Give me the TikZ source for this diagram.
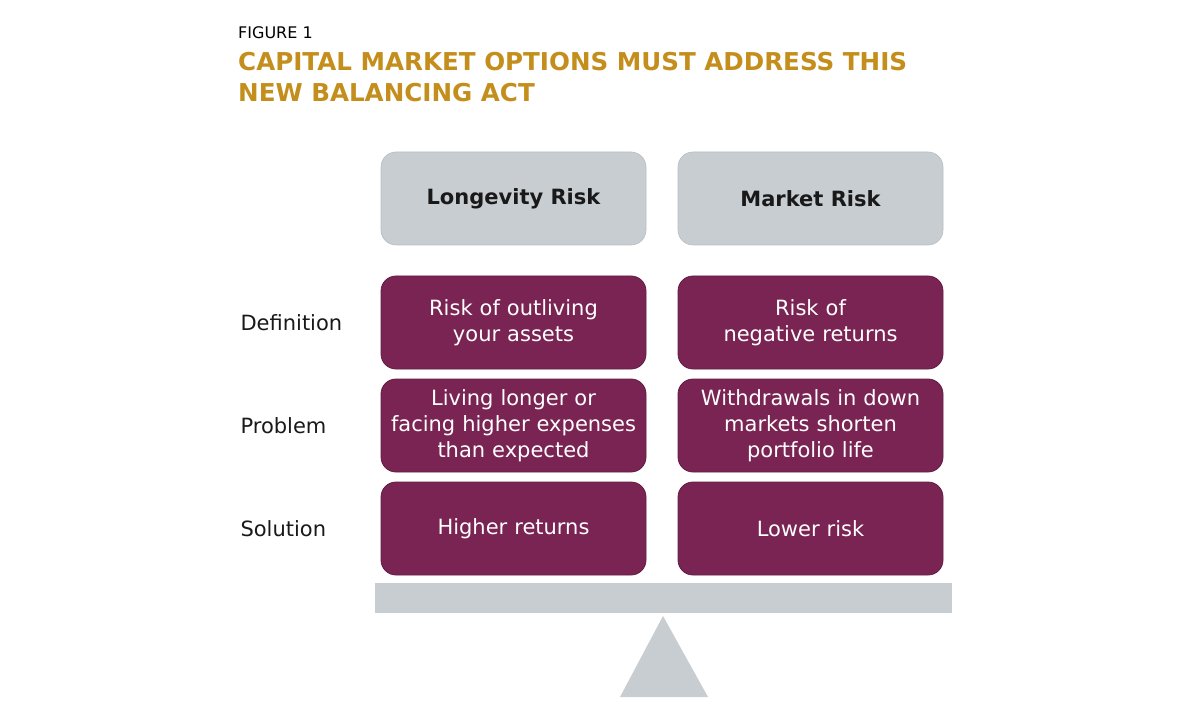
\documentclass[tikz,border=0pt]{standalone}
\usepackage{fontspec}
\setmainfont{DejaVu Sans}
\usepackage{tikz}
\usetikzlibrary{shapes,arrows}
\usetikzlibrary{positioning,fit}
\definecolor{riskgrey}{HTML}{C8CDD1}
\definecolor{riskplum}{HTML}{7A2453}
\definecolor{titlegold}{HTML}{C48E1C}
\tikzstyle{head} = [draw=riskgrey!92!black, line width=0.6pt, rounded corners=15pt, fill=riskgrey,
    minimum width=265pt, minimum height=93pt, font=\fontsize{21}{26}\selectfont\bfseries,
    text=black!90]
\tikzstyle{cell} = [draw=riskplum!80!black, line width=0.8pt, rounded corners=15pt, fill=riskplum,
    minimum width=265pt, minimum height=93pt, text width=258pt, align=center,
    font=\fontsize{21}{26}\selectfont, text=white]
\tikzstyle{rowlabel} = [anchor=west, font=\fontsize{21}{26}\selectfont, text=black!90]

\begin{document}
\begin{tikzpicture}[x=1pt, y=-1pt]
  \useasboundingbox (0,0) rectangle (1191,727);
  % title
  \node [anchor=west, inner sep=0pt, font=\fontsize{16}{20}\selectfont] (fig) at (238,33) {FIGURE 1};
  \node [anchor=north west, inner sep=0pt, align=left, text=titlegold,
    font=\fontsize{24.6}{31}\selectfont\bfseries] (title) at (238,52)
  {CAPITAL MARKET OPTIONS MUST ADDRESS THIS\\NEW BALANCING ACT};
  % column heads
  \node [head] (lhead) at (513.5,198.5) {Longevity Risk};
  \node [head, right of=lhead, node distance=297pt] (rhead) {Market Risk};
  % rows
  \node [cell, below of=lhead, node distance=124pt] (ldef) {Risk of outliving\\your assets};
  \node [cell, right of=ldef, node distance=297pt] (rdef) {Risk of\\negative returns};
  \node [cell, below of=ldef, node distance=103pt] (lprob)
  {Living longer or\\facing higher expenses\\than expected};
  \node [cell, right of=lprob, node distance=297pt] (rprob)
  {Withdrawals in down\\markets shorten\\portfolio life};
  \node [cell, below of=lprob, node distance=103pt] (lsol) {Higher returns};
  \node [cell, right of=lsol, node distance=297pt] (rsol) {Lower risk};
  % row labels
  \coordinate (labx) at (237,0);
  \node [rowlabel] (def) at (ldef -| labx) {Definition};
  \node [rowlabel] (prob) at (lprob -| labx) {Problem};
  \node [rowlabel] (sol) at (lsol -| labx) {Solution};
  % seesaw
  \fill [riskgrey] (375,583) rectangle (952,613);
  \fill [riskgrey] (663,616) -- (708,697) -- (620,697) -- cycle;
\end{tikzpicture}
\end{document}
